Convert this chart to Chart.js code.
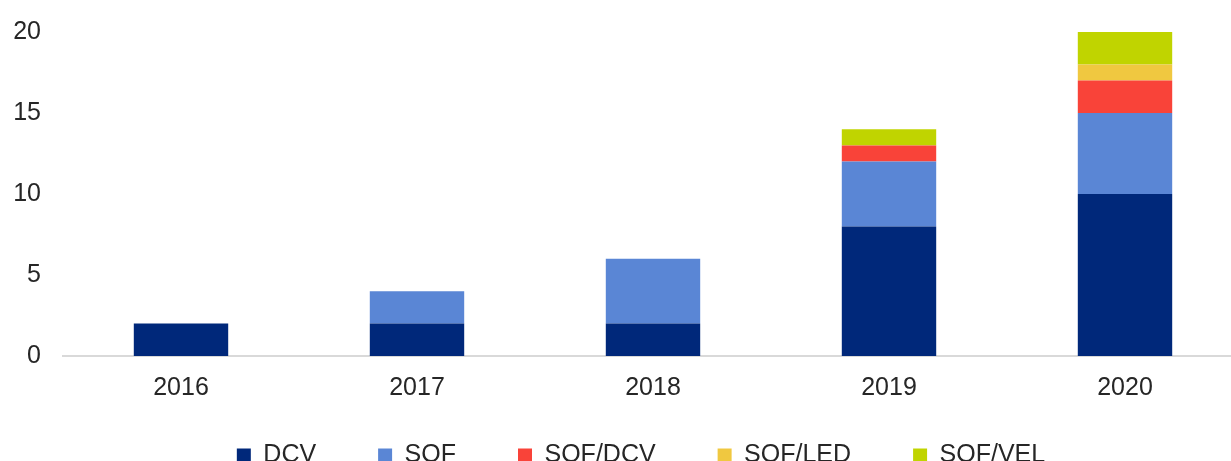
<!DOCTYPE html>
<html>
<head>
<meta charset="utf-8">
<script src="https://cdn.jsdelivr.net/npm/chart.js@4"></script>
<style>
  html, body { margin: 0; padding: 0; overflow: hidden; background: #fff; width: 1231px; height: 461px; }
  #wrap { position: absolute; left: 0; top: 0; width: 1282px; height: 517px; }
</style>
</head>
<body>
<div id="wrap"><canvas id="c"></canvas></div>
<script>
const categories = ['2016', '2017', '2018', '2019', '2020'];
const dcv    = [2, 2, 2, 8, 10];
const sof    = [0, 2, 4, 4, 5];
const sofDcv = [0, 0, 0, 1, 2];
const sofLed = [0, 0, 0, 0, 1];
const sofVel = [0, 0, 0, 1, 2];
const seriesNames = ['DCV', 'SOF', 'SOF/DCV', 'SOF/LED', 'SOF/VEL'];
const yTicks = [0, 5, 10, 15, 20];

const colors = ['#00287a', '#5a86d5', '#f94339', '#f0c840', '#c0d400'];
const seriesData = [dcv, sof, sofDcv, sofLed, sofVel];

const font = { family: '"Liberation Sans", Arial, sans-serif', size: 25 };

// move the legend up closer to the axis (legend padding is also used as item spacing)
const legendShift = {
  id: 'legendShift',
  afterLayout(chart) {
    const l = chart.legend;
    if (l) { l.top -= 39; l.bottom -= 39; }
  }
};

new Chart(document.getElementById('c'), {
  type: 'bar',
  data: {
    labels: categories,
    datasets: seriesNames.map((n, i) => ({
      label: n,
      data: seriesData[i],
      backgroundColor: colors[i],
      borderWidth: 0,
      categoryPercentage: 0.8,
      barPercentage: 0.5
    }))
  },
  plugins: [legendShift],
  options: {
    responsive: true,
    maintainAspectRatio: false,
    animation: false,
    layout: { padding: 0 },
    plugins: {
      tooltip: { enabled: false },
      legend: {
        position: 'bottom',
        labels: {
          font: font,
          color: '#262626',
          boxWidth: 14,
          boxHeight: 14,
          padding: 62
        }
      }
    },
    scales: {
      x: {
        stacked: true,
        grid: { display: false, drawTicks: false },
        border: { display: true, color: '#d9d9d9', width: 2 },
        ticks: { font: font, color: '#262626', padding: 17 }
      },
      y: {
        stacked: true,
        min: 0,
        max: 20,
        afterBuildTicks: s => { s.ticks = yTicks.map(v => ({ value: v })); },
        grid: { display: false, drawTicks: false },
        border: { display: false },
        ticks: { font: font, color: '#262626', padding: 22 },
        afterFit: s => { s.width = 63; s.paddingTop = 32; }
      },
      y2: {
        position: 'right',
        display: true,
        grid: { display: false, drawTicks: false },
        border: { display: false },
        ticks: { display: false },
        afterFit: s => { s.width = 39; }
      }
    }
  }
});
</script>
</body>
</html>
